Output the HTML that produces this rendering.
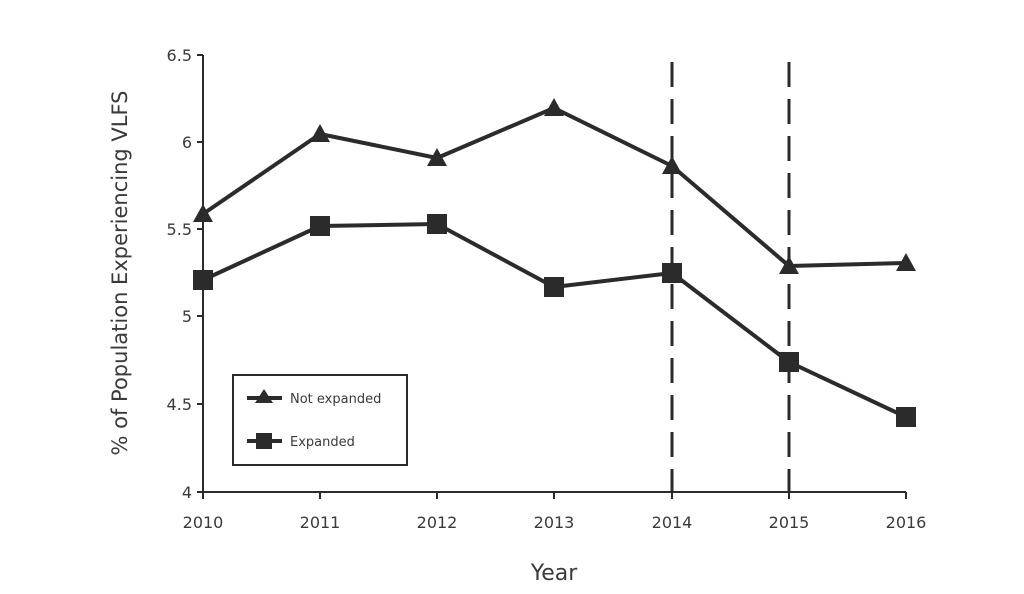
<!DOCTYPE html>
<html><head><meta charset="utf-8"><style>
html,body{margin:0;padding:0;background:#fff;}
svg{display:block;}
text{font-family:"DejaVu Sans","Liberation Sans",sans-serif;fill:#3a3a3a;}
</style></head><body>
<svg width="1024" height="594" viewBox="0 0 1024 594" xmlns="http://www.w3.org/2000/svg">
<defs>
<path id="tri" d="M0,-10 L10,8 L-10,8 Z" fill="#2b2b2b"/>
<rect id="sq" x="-10" y="-10" width="20" height="20" fill="#2b2b2b"/>
</defs>
<g stroke="#2b2b2b" stroke-width="2" fill="none">
<line x1="203" y1="55" x2="203" y2="492"/>
<line x1="203" y1="492" x2="906" y2="492"/>
<line x1="197" y1="55" x2="203" y2="55"/>
<line x1="197" y1="142" x2="203" y2="142"/>
<line x1="197" y1="229" x2="203" y2="229"/>
<line x1="197" y1="316" x2="203" y2="316"/>
<line x1="197" y1="404" x2="203" y2="404"/>
<line x1="197" y1="492" x2="203" y2="492"/>
<line x1="203" y1="492" x2="203" y2="499"/>
<line x1="320" y1="492" x2="320" y2="499"/>
<line x1="437" y1="492" x2="437" y2="499"/>
<line x1="554" y1="492" x2="554" y2="499"/>
<line x1="672" y1="492" x2="672" y2="499"/>
<line x1="789" y1="492" x2="789" y2="499"/>
<line x1="906" y1="492" x2="906" y2="499"/>
</g>
<g stroke="#2b2b2b" stroke-width="3" stroke-dasharray="25,12">
<line x1="672" y1="62" x2="672" y2="492"/>
<line x1="789" y1="62" x2="789" y2="492"/>
</g>
<g font-size="16" text-anchor="end">
<text x="192" y="61">6.5</text>
<text x="192" y="148">6</text>
<text x="192" y="235">5.5</text>
<text x="192" y="322">5</text>
<text x="192" y="410">4.5</text>
<text x="192" y="498">4</text>
</g>
<g font-size="16" text-anchor="middle">
<text x="203" y="528">2010</text>
<text x="320" y="528">2011</text>
<text x="437" y="528">2012</text>
<text x="554" y="528">2013</text>
<text x="672" y="528">2014</text>
<text x="789" y="528">2015</text>
<text x="906" y="528">2016</text>
</g>
<text x="554" y="580" font-size="22" text-anchor="middle">Year</text>
<text transform="translate(127,273) rotate(-90)" font-size="21" text-anchor="middle">% of Population Experiencing VLFS</text>
<polyline fill="none" stroke="#2b2b2b" stroke-width="4" stroke-linejoin="round" points="203,214 320,134 437,158 554,108 672,166 789,266 906,263"/>
<polyline fill="none" stroke="#2b2b2b" stroke-width="4" stroke-linejoin="round" points="203,280 320,226 437,224 554,287 672,273 789,362 906,417"/>
<use href="#tri" x="203" y="214"/><use href="#tri" x="320" y="134"/><use href="#tri" x="437" y="158"/><use href="#tri" x="554" y="108"/><use href="#tri" x="672" y="166"/><use href="#tri" x="789" y="266"/><use href="#tri" x="906" y="263"/>
<use href="#sq" x="203" y="280"/><use href="#sq" x="320" y="226"/><use href="#sq" x="437" y="224"/><use href="#sq" x="554" y="287"/><use href="#sq" x="672" y="273"/><use href="#sq" x="789" y="362"/><use href="#sq" x="906" y="417"/>
<rect x="233" y="375" width="174" height="90" fill="#fff" stroke="#2b2b2b" stroke-width="2"/>
<line x1="247" y1="398" x2="282" y2="398" stroke="#2b2b2b" stroke-width="4"/>
<path d="M264,389 L273,403 L255,403 Z" fill="#2b2b2b"/>
<line x1="247" y1="441" x2="282" y2="441" stroke="#2b2b2b" stroke-width="4"/>
<rect x="256" y="433" width="16" height="16" fill="#2b2b2b"/>
<text x="290" y="403" font-size="13">Not expanded</text>
<text x="290" y="446" font-size="13">Expanded</text>
</svg>
</body></html>
